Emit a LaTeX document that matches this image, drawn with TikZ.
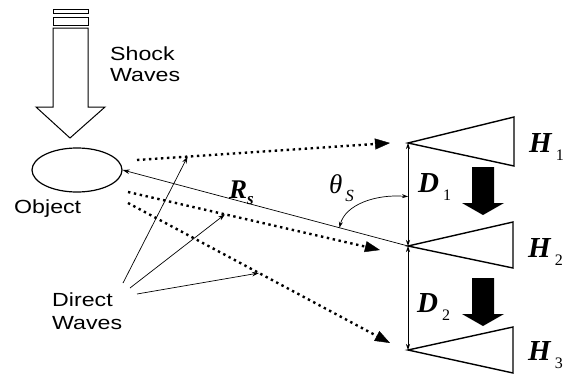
\documentclass[tikz,border=0pt]{standalone}
\usepackage{fontspec}
\setmainfont{Liberation Serif}
\newfontfamily\labfont[FakeStretch=1.22]{Liberation Sans}
\usetikzlibrary{arrows.meta,positioning,shapes.geometric,calc}

\newcommand{\horn}[2]{{\fontsize{29}{29}\selectfont\bfseries\itshape #1}\hspace{4pt}\raisebox{-8pt}{\fontsize{16}{16}\selectfont #2}}

\begin{document}
\begin{tikzpicture}[x=1pt, y=-1pt,
    word/.style={font=\labfont\fontsize{19}{21}\selectfont, inner sep=0pt, align=left, anchor=north west},
    sym/.style={inner sep=0pt, anchor=base west},
    dotarr/.style={line width=2.4pt, dash pattern=on 2.4pt off 3.6pt, -{Triangle[length=15pt,width=11pt,line width=0.4pt]}},
    thinarr/.style={line width=0.7pt, -{Stealth[length=7pt,width=4.5pt]}},
    dimarr/.style={line width=0.7pt, {Stealth[length=6pt,width=4pt]}-{Stealth[length=6pt,width=4pt]}},
    horn/.style={line width=1.4pt, line join=miter},
    pics/push/.style={code={\fill (-11,0) -- (11,0) -- (11,36) -- (21,36) -- (0,48) -- (-21,36) -- (-11,36) -- cycle;}}
]
\useasboundingbox (0,0) rectangle (576,375);

% shock wave arrow
\draw[line width=1pt] (53,9) rectangle (88,13);
\draw[line width=1pt] (53,17) rectangle (88,25);
\draw[line width=1pt, line join=miter] (53,28) -- (88,28) -- (88,107) -- (105,107) -- (70,138) -- (36,107) -- (53,107) -- cycle;
\node[word] (shock) at (110,47) {Shock\\Waves};

\node[draw, ellipse, line width=1.2pt, minimum width=90, minimum height=44] (obj) at (77,170) {};
\node[word, anchor=base west] (objlab) at (14,213) {Object};
\node[word] (direct) at (52,293) {Direct\\[2pt]Waves};

% horns
\coordinate (a1) at (408,143);
\coordinate (a2) at (408,246);
\coordinate (a3) at (408,350);
\draw[horn] (a1) -- ++(106,-26) -- ++(0,49) -- cycle;
\draw[horn] (a2) -- ++(105,-24) -- ++(0,46) -- cycle;
\draw[horn] (a3) -- ++(105,-23) -- ++(0,46) -- cycle;
\node[sym] (h1) at (529,152) {\horn{H}{1}};
\node[sym] (h2) at (528,257) {\horn{H}{2}};
\node[sym] (h3) at (528,360) {\horn{H}{3}};

\pic at (483,167) {push};
\pic at (483,278) {push};
\draw[dimarr] (a1) -- (a2);
\draw[dimarr] (a2) -- (a3);
\node[sym] (d1) at (418,192) {\horn{D}{1}};
\node[sym] (d2) at (417,312) {\horn{D}{2}};

% range and angle
\draw[thinarr] (a2) -- (obj.east);
\node[sym] (rs) at (229,198) {{\fontsize{27}{27}\selectfont\bfseries\itshape R}\raisebox{-6pt}{\fontsize{17}{17}\selectfont\bfseries\itshape s}};
\coordinate (t1) at ($(a1)!0.52!(a2)$);
\coordinate (t2) at ($(a2)!0.24!(obj.east)$);
\draw[dimarr] (t1) .. controls (375,194) and (345,205) .. (t2);
\node[sym] (th) at (329,193) {{\fontsize{27}{27}\selectfont\itshape θ}\hspace{3pt}\raisebox{-8pt}{\fontsize{17}{17}\selectfont\itshape S}};

% scattered waves
\coordinate (s1) at (137,160);
\coordinate (e1) at (390,143);
\coordinate (s2) at (128,192);
\coordinate (e2) at (380,250);
\coordinate (s3) at (128,203);
\coordinate (e3) at (390,343);
\draw[dotarr] (s1) -- (e1);
\draw[dotarr] (s2) -- (e2);
\draw[dotarr] (s3) -- (e3);

% direct waves
\coordinate (p1) at (123,283);
\coordinate (p2) at (130,288);
\coordinate (p3) at (137,294);
\coordinate (w1) at ($(s1)!0.2!(e1)$);
\coordinate (w2) at ($(s2)!0.385!(e2)$);
\coordinate (w3) at ($(s3)!0.5!(e3)$);
\draw[thinarr] (p1) -- (w1);
\draw[thinarr] (p2) -- (w2);
\draw[thinarr] (p3) -- (w3);
\end{tikzpicture}
\end{document}
